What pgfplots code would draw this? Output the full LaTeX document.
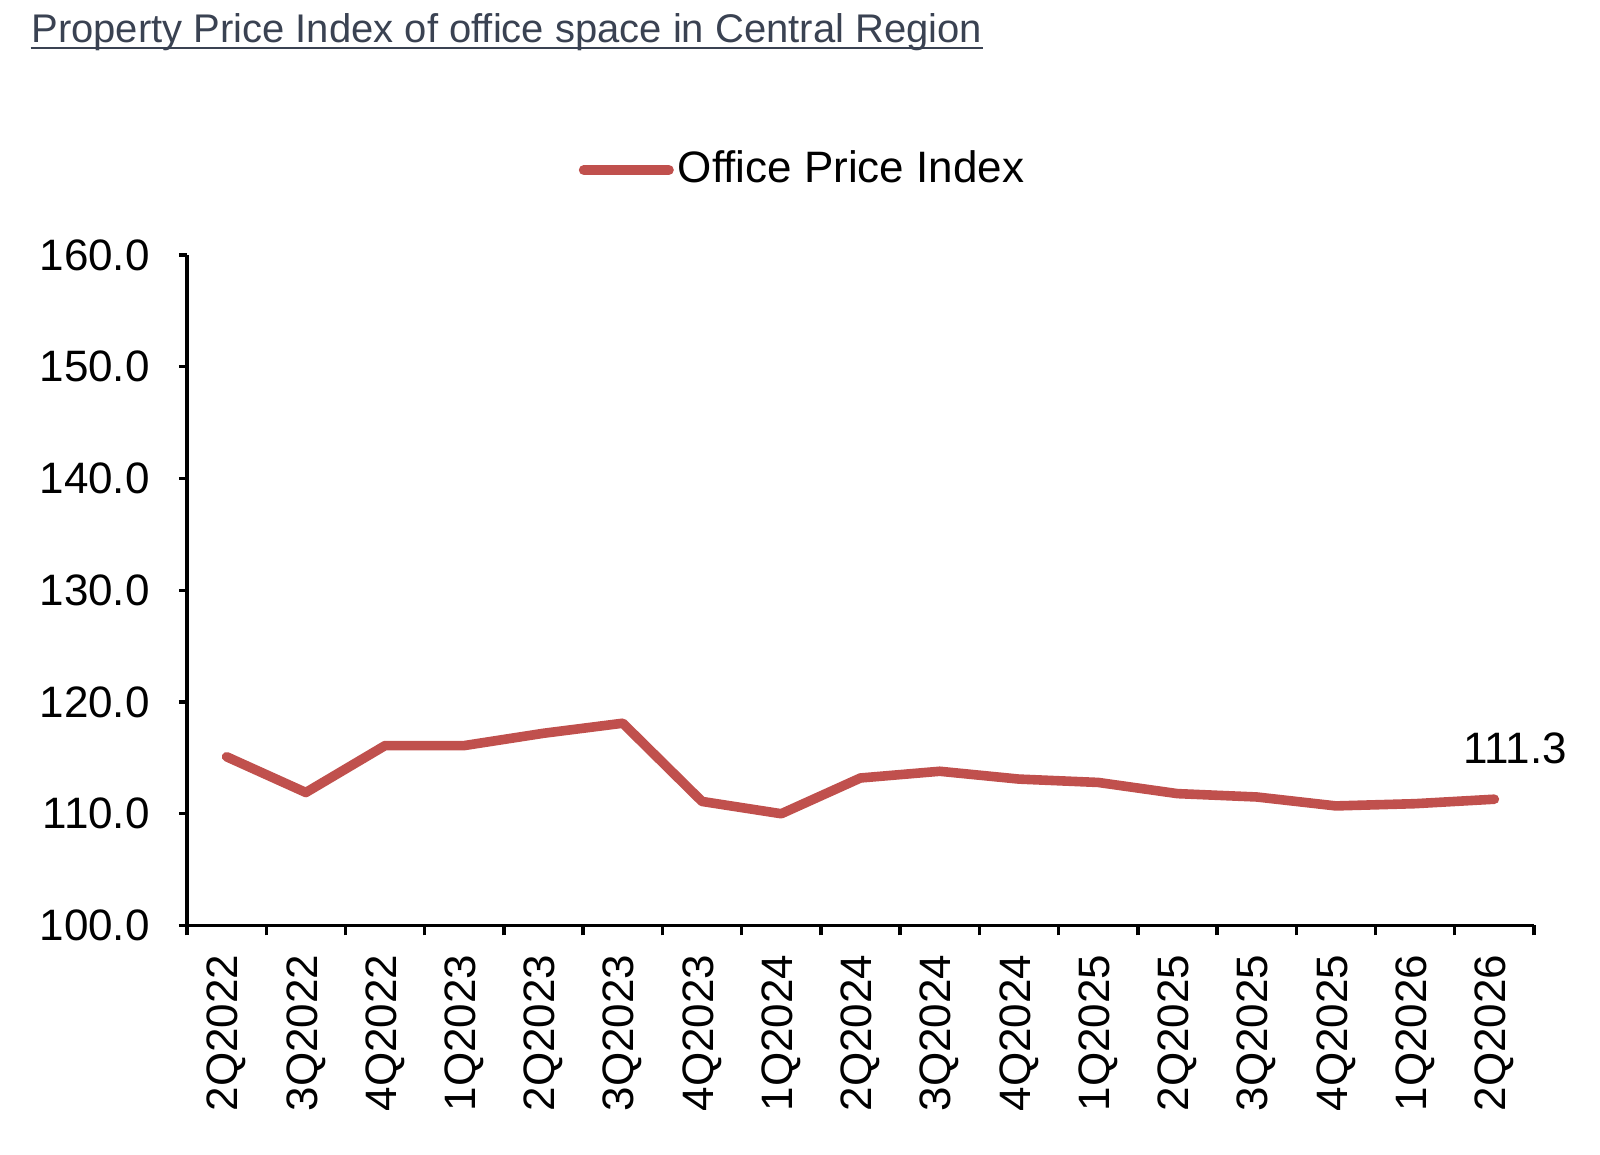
\documentclass[border=0pt]{standalone}
\usepackage{fontspec}
\setmainfont{Liberation Sans}
\usepackage{pgfplots}
\usepackage{pgfplotstable}
\pgfplotsset{compat=1.18}

\definecolor{linered}{RGB}{192,80,77}
\definecolor{titleslate}{RGB}{58,66,82}

% Quarterly office price index, Central Region
\pgfplotstableread{
idx value
0  115.1
1  111.9
2  116.1
3  116.1
4  117.2
5  118.1
6  111.1
7  110.0
8  113.2
9  113.8
10 113.1
11 112.8
12 111.8
13 111.5
14 110.7
15 110.9
16 111.3
}\officeindex

\begin{document}
\begin{tikzpicture}[x=1pt,y=1pt]
\path[use as bounding box] (0,0) rectangle (400,288.75);

\node[anchor=base west, inner sep=0pt, text=titleslate,
      font=\fontsize{10}{12}\selectfont] (title) at (7.65,278)
  {Property Price Index of office space in Central Region};
\draw[titleslate, line width=0.5pt]
  ([yshift=-1.2pt]title.base west) -- ([yshift=-1.2pt]title.base east);

\begin{axis}[
  at={(46.75pt,57.375pt)}, anchor=south west,
  scale only axis, width=336.75pt, height=167.625pt,
  xmin=-0.5, xmax=16.5, ymin=100, ymax=160,
  axis x line*=bottom, axis y line*=left,
  axis line style={line width=0.95pt, black},
  xtick={0,...,16},
  xticklabels={2Q2022,3Q2022,4Q2022,1Q2023,2Q2023,3Q2023,4Q2023,1Q2024,2Q2024,3Q2024,4Q2024,1Q2025,2Q2025,3Q2025,4Q2025,1Q2026,2Q2026},
  minor xtick={-0.5,0.5,...,16.5},
  major x tick style={draw=none},
  minor tick length=2.5pt,
  major tick length=2pt,
  tick align=outside,
  tick style={black, line width=0.85pt},
  ytick={100,110,...,160},
  yticklabels={100.0,110.0,120.0,130.0,140.0,150.0,160.0},
  ticklabel style={font=\fontsize{11}{13}\selectfont, black},
  xticklabel style={rotate=90, anchor=east},
  xticklabel shift=1.8pt,
  yticklabel shift=3.8pt,
  clip=false,
  legend style={draw=none, fill=none, at={(0.2903,1.1268)}, anchor=west,
    inner sep=0pt, font=\fontsize{11}{13}\selectfont,
    nodes={inner sep=1pt}},
  legend image code/.code={\draw[#1, line width=2.5pt, line cap=round] (1.25pt,0pt) -- (22.5pt,0pt);},
]
\addplot[linered, line width=2.4pt, line join=round, line cap=round]
  table[x=idx, y=value] {\officeindex};
\addlegendentry{Office Price Index}
\node[font=\fontsize{11}{13}\selectfont, xshift=5.15pt, yshift=12.75pt]
  at (axis cs:16,111.3) {111.3};
\end{axis}
\end{tikzpicture}
\end{document}
